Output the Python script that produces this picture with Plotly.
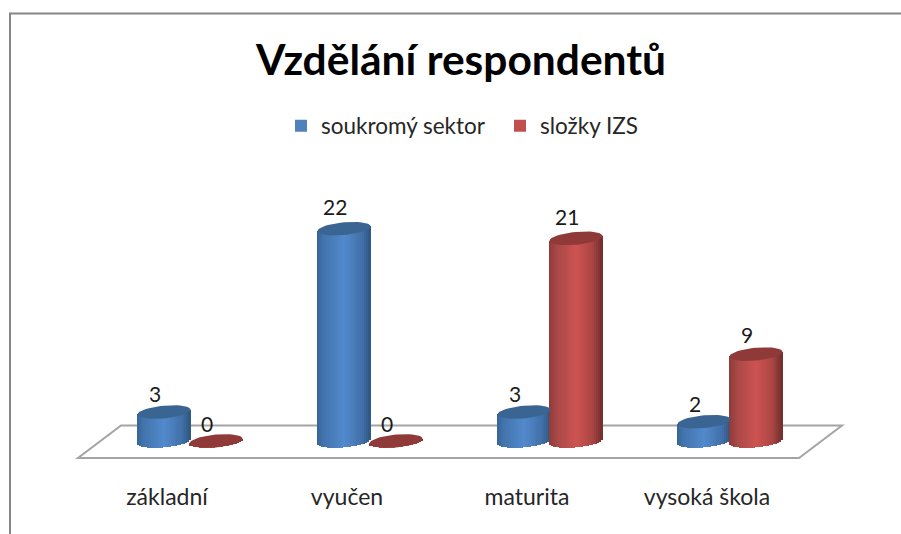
import numpy as np
import plotly.graph_objects as go

categories = ["základní", "vyučen", "maturita", "vysoká škola"]
soukromy = [3, 22, 3, 2]
slozky = [0, 0, 21, 9]
series_names = ["soukromý sektor", "složky IZS"]
title_text = "Vzdělání respondentů"

W, H = 901, 534
PX_X = 180.0      # px per category
PX_Y = 9.65       # px per value unit
X0 = 167.0        # px of category 0
Y0 = 441.0        # px of value 0
BOTTOM = 481.0    # px of plot bottom
A, B, K = 26.5, 6.4, -0.09  # cylinder ellipse half width, half height, tilt
N = 27


def lerp(stops, t):
    pos = [s[0] for s in stops]
    rgb = [np.interp(t, pos, [s[1][i] for s in stops]) for i in range(3)]
    return "rgb(%d,%d,%d)" % tuple(int(round(v)) for v in rgb)


def cylinder_arrays(values, off_px, stops):
    xs, ys, bases, widths, offsets, colors = [], [], [], [], [], []
    sw = 2 * A / N
    for i, v in enumerate(values):
        for s in range(N):
            dx = -A + (s + 0.5) * sw
            front = B * np.sqrt(max(0.0, 1 - (dx / A) ** 2)) + K * dx
            bottom_val = -front / PX_Y
            top_val = v - (K * dx) / PX_Y
            xs.append(i)
            ys.append(top_val - bottom_val)
            bases.append(bottom_val)
            widths.append((sw + 0.6) / PX_X)
            offsets.append((off_px + dx - sw / 2 - 0.3) / PX_X)
            colors.append(lerp(stops, (s + 0.5) / N))
    return xs, ys, bases, widths, offsets, colors


def caps(values, off_px):
    t = np.linspace(0, 2 * np.pi, 49)
    xs, ys = [], []
    for i, v in enumerate(values):
        dx = A * np.cos(t)
        dy = B * np.sin(t) + K * dx
        xs += list(i + (off_px + dx) / PX_X) + [None]
        ys += list(v - dy / PX_Y) + [None]
    return xs, ys


BLUE = dict(off=-3.0, base="#4f81bd", cap="#3a6592",
            stops=[(0, (54, 100, 150)), (0.12, (66, 116, 172)), (0.5, (82, 137, 205)),
                   (0.85, (66, 112, 168)), (1, (46, 86, 128))])
RED = dict(off=49.0, base="#c0504d", cap="#8f3a38",
           stops=[(0, (142, 60, 58)), (0.15, (168, 72, 70)), (0.5, (205, 83, 81)),
                  (0.82, (170, 70, 68)), (1, (114, 45, 44))])

fig = go.Figure()
idx = list(range(len(categories)))

for name, vals, st in zip(series_names, [soukromy, slozky], [BLUE, RED]):
    fig.add_trace(go.Bar(x=idx, y=vals, name=name, width=0.1, offset=(st["off"] - 9) / PX_X,
                         marker=dict(color=st["base"], line=dict(width=0))))

for name, vals, st in zip(series_names, [soukromy, slozky], [BLUE, RED]):
    x, y, b, w, o, c = cylinder_arrays(vals, st["off"], st["stops"])
    fig.add_trace(go.Bar(x=x, y=y, base=b, width=w, offset=o, showlegend=False, name=name,
                         marker=dict(color=c, line=dict(width=0))))

for name, vals, st in zip(series_names, [soukromy, slozky], [BLUE, RED]):
    cx, cy = caps(vals, st["off"])
    fig.add_trace(go.Scatter(x=cx, y=cy, mode="lines", fill="toself", fillcolor=st["cap"],
                             line=dict(width=0, color=st["cap"]), showlegend=False,
                             hoverinfo="skip"))


def px(xp):
    return xp / W


def py(yp):
    return 1 - yp / BOTTOM


floor = "M %f,%f L %f,%f L %f,%f L %f,%f Z" % (
    px(78), py(458), px(799), py(458), px(842), py(425.5), px(121), py(425.5))
frame = "M %f,%f L %f,%f L %f,%f" % (px(10), py(534), px(10), py(13.5), px(901), py(13.5))
shapes = [
    dict(type="path", xref="paper", yref="paper", path=floor,
         line=dict(color="#a4a4a4", width=2), layer="below"),
    dict(type="path", xref="paper", yref="paper", path=frame,
         line=dict(color="#868686", width=2), layer="below"),
]

annotations = []
for vals, st in zip([soukromy, slozky], [BLUE, RED]):
    for i, v in enumerate(vals):
        annotations.append(dict(x=i + st["off"] / PX_X, y=v, text=str(v), showarrow=False,
                                xshift=-9, yshift=17.5 + v * 0.2, yanchor="middle",
                                font=dict(family="Lato", size=21, color="#1a1a1a")))

fig.update_layout(
    width=W, height=H, autosize=False,
    margin=dict(l=0, r=0, t=0, b=H - BOTTOM),
    paper_bgcolor="white", plot_bgcolor="rgba(0,0,0,0)",
    barmode="overlay", bargap=0,
    title=dict(text="<b>%s</b>" % title_text, x=461 / W, xanchor="center", xref="paper",
               y=1 - 60 / H, yanchor="middle",
               font=dict(family="Lato", size=42.5, color="#000000")),
    legend=dict(orientation="h", x=281 / W, xanchor="left", y=py(126), yanchor="middle",
                entrywidth=174, entrywidthmode="pixels", bgcolor="rgba(0,0,0,0)",
                font=dict(family="Lato", size=22.5, color="#262626"), traceorder="normal"),
    xaxis=dict(range=[-X0 / PX_X, (W - X0) / PX_X], tickvals=idx, ticktext=categories,
               showgrid=False, zeroline=False, showline=False, ticks="",
               tickfont=dict(family="Lato", size=23, color="#262626"), fixedrange=True),
    yaxis=dict(range=[-(BOTTOM - Y0) / PX_Y, Y0 / PX_Y], visible=False, fixedrange=True),
    shapes=shapes, annotations=annotations,
)

fig.write_html("out.html", config=dict(displayModeBar=False),
               post_script="document.body.style.margin='0';")
